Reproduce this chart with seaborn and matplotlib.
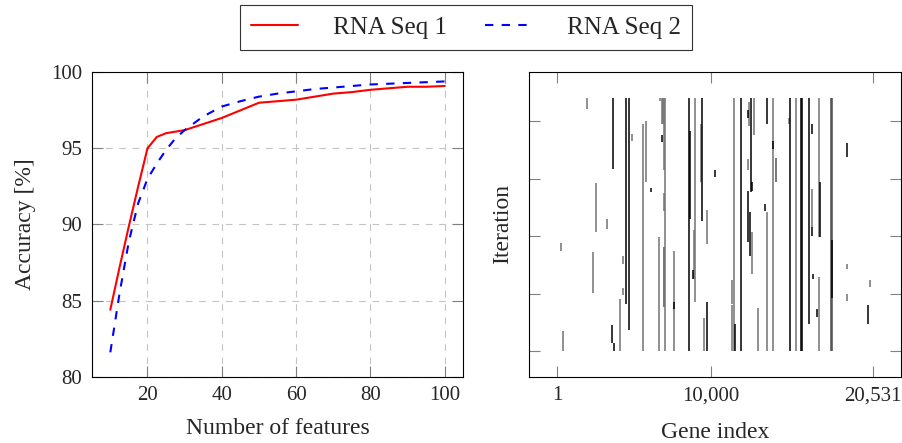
import matplotlib
matplotlib.use('Agg')
import matplotlib.pyplot as plt
from matplotlib.lines import Line2D
import seaborn as sns
import pandas as pd

# --- accuracy vs number of features (left panel) ---
features = [10, 12.5, 15, 17.5, 20, 22.5, 25, 27.5, 30, 35, 40, 45, 50, 55, 60, 65, 70,
            75, 80, 85, 90, 95, 100]
acc_seq1 = [84.4, 87.2, 89.9, 92.5, 95.0, 95.75, 96.0, 96.1, 96.2, 96.6, 97.0, 97.5,
            98.0, 98.1, 98.2, 98.4, 98.6, 98.7, 98.85, 98.95, 99.05, 99.05, 99.1]
acc_seq2 = [81.6, 85.5, 88.9, 91.4, 93.0, 94.0, 94.9, 95.65, 96.2, 97.1, 97.75, 98.1,
            98.4, 98.6, 98.75, 98.9, 99.0, 99.1, 99.2, 99.25, 99.3, 99.35, 99.4]
series_names = ['RNA Seq 1', 'RNA Seq 2']

# --- selected genes per iteration (right panel) ---
# gene index, first iteration, last iteration, selection weight (1 = black)
gene_idx = [1932, 3641, 4467, 4642, 4837, 5572, 5767, 2497, 3212, 222, 2302, 4252, 4252,
            4057, 3537, 3706, 352, 6696, 6840, 6905, 6969, 6969, 6969, 6935, 7034, 6826,
            6072, 6611, 7586, 7606, 8581, 8659, 8984, 8887, 8854, 9322, 9439, 10252, 9712,
            9764, 9537, 11389, 11337, 11519, 11552, 11922, 12481, 12377, 12592, 12767,
            12676, 12377, 12507, 12676, 12377, 13651, 14041, 14041, 14197, 14230, 13501,
            13631, 13066, 15126, 15081, 15562, 15887, 15920, 16381, 16602, 16602, 16602,
            16622, 16901, 17011, 17096, 17011, 17820, 17860, 17860, 18877, 18877, 18877,
            20372, 20216]
iter_start = [21.0, 15.85, 4.1, 1.8, 18.25, 0.0, 14.7, 10.35, 10.6, 8.7, 5.05, 7.6, 4.85,
              0.0, 0.7, 0.0, 0.0, 21.7, 19.75, 19.75, 15.7, 12.2, 3.85, 3.85, 0.0, 18.2,
              13.8, 0.0, 0.0, 3.65, 0.0, 11.5, 4.25, 6.3, 6.25, 14.7, 11.35, 15.15, 9.3,
              0.0, 0.0, 4.1, 0.0, 0.0, 0.0, 0.0, 19.6, 20.25, 13.85, 18.8,
              13.9, 9.5, 8.3, 6.7, 15.7, 19.7, 0.0, 17.6, 14.7, 14.7, 12.2,
              0.0, 0.0, 0.0, 19.75, 0.0, 0.0, 0.0, 2.4, 18.9, 10.8, 10.0,
              6.25, 3.0, 9.95, 9.95, 0.0, 0.0, 0.0, 4.6, 16.9, 7.1, 4.4,
              5.6, 2.4]
iter_end = [22.0, 22.0, 22.0, 22.0, 18.9, 19.75, 20.0, 14.65, 11.45, 9.4, 8.65, 8.25, 5.5,
            4.5, 2.3, 0.7, 1.75, 22.0, 22.0, 22.0, 22.0, 13.7, 9.05, 9.05, 22.0, 18.8,
            14.2, 9.9, 8.7, 4.25, 22.0, 19.1, 22.0, 10.5, 7.05, 19.7, 22.0, 15.7, 12.3,
            4.25, 2.9, 6.15, 4.0, 22.0, 2.4, 22.0, 21.65, 20.95, 22.0, 22.0,
            14.7, 13.9, 12.1, 10.35, 16.7, 22.0, 22.0, 18.25, 16.8, 16.8, 12.8,
            12.1, 3.75, 22.0, 20.25, 22.0, 22.0, 22.0, 22.0, 19.7, 14.1, 10.8,
            6.7, 3.65, 22.0, 14.7, 6.45, 22.0, 22.0, 9.65, 18.1, 7.55, 5.0,
            6.2, 4.05]
weight = [0.55, 1.0, 1.0, 1.0, 0.55, 0.55, 0.55, 0.55, 0.55, 0.55, 0.55, 0.55, 0.55,
          0.55, 1.0, 1.0, 0.55, 0.55, 0.55, 0.55, 0.55, 0.55, 0.55, 0.55, 0.55, 1.0,
          1.0, 0.55, 0.55, 1.0, 1.0, 1.0, 0.55, 0.55, 1.0, 0.55, 1.0, 1.0, 0.55,
          1.0, 0.55, 0.55, 0.55, 0.55, 1.0, 1.0, 0.55, 1.0, 1.0, 0.55,
          1.0, 1.0, 1.0, 0.55, 0.55, 1.0, 0.55, 1.0, 0.55, 0.55, 1.0,
          0.55, 0.55, 1.0, 0.55, 0.55, 1.0, 1.0, 1.0, 1.0, 0.55, 1.0,
          1.0, 1.0, 0.55, 1.0, 0.55, 0.7, 0.7, 1.0, 1.0, 0.55, 0.55,
          0.55, 1.0]
gene_ticks = [1, 10000, 20531]
gene_ticklabels = ['1', '10,000', '20,531']
iter_ticks = [0, 5, 10, 15, 20]

sns.set_style('white')
plt.rcParams['font.family'] = ['Liberation Serif', 'DejaVu Serif']

fig = plt.figure(figsize=(9.02, 4.43), dpi=100)
ax1 = fig.add_axes([0.1017, 0.1497, 0.412, 0.6871])
ax2 = fig.add_axes([0.5868, 0.1497, 0.4121, 0.6871])

# left panel
df_acc = pd.DataFrame({
    'features': features * 2,
    'accuracy': acc_seq1 + acc_seq2,
    'series': [series_names[0]] * len(features) + [series_names[1]] * len(features),
})
colors = {series_names[0]: 'red', series_names[1]: 'blue'}
sns.lineplot(data=df_acc, x='features', y='accuracy', hue='series', style='series',
             palette=colors, dashes={series_names[0]: '', series_names[1]: (4, 4)},
             linewidth=1.5, errorbar=None, legend=False, ax=ax1)
ax1.set_xlim(5, 105)
ax1.set_ylim(80, 100)
ax1.set_xticks([20, 40, 60, 80, 100])
ax1.set_yticks([80, 85, 90, 95, 100])
ax1.set_axisbelow(True)
ax1.grid(True, color='#c4c4c4', linestyle=(0, (6, 6)), linewidth=0.8)
ax1.set_xlabel('Number of features', fontsize=17, labelpad=9)
ax1.set_ylabel('Accuracy [%]', fontsize=17, labelpad=11)

# right panel
df_sel = pd.DataFrame({'gene': gene_idx, 'start': iter_start, 'end': iter_end, 'w': weight})
df_sel = df_sel.sort_values('w')
shade = [(1 - w, 1 - w, 1 - w) for w in df_sel['w']]
ax2.vlines(df_sel['gene'], df_sel['start'], df_sel['end'], colors=shade, linewidth=1.1)
ax2.set_xlim(-1821, 22362)
ax2.set_ylim(-2.22, 24.23)
ax2.set_xticks(gene_ticks)
ax2.set_xticklabels(gene_ticklabels)
ax2.set_yticks(iter_ticks)
ax2.set_xlabel('Gene index', fontsize=17, labelpad=12)
ax2.set_ylabel('Iteration', fontsize=17, labelpad=12)

for ax in (ax1, ax2):
    ax.tick_params(direction='in', length=8, width=0.8, color='#808080',
                   top=True, right=True, bottom=True, left=True, labelsize=15, pad=7)
    for s in ax.spines.values():
        s.set_color('black')
        s.set_linewidth(0.8)
ax2.tick_params(labelleft=False)

handles = [Line2D([], [], color='red', lw=1.5),
           Line2D([], [], color='blue', lw=1.5, linestyle=(0, (4, 4)))]
leg = fig.legend(handles, series_names, loc='center', bbox_to_anchor=(0.5166, 0.9368),
                 ncol=2, frameon=True, fancybox=False, edgecolor='black', fontsize=18,
                 handlelength=1.85, handletextpad=1.4, columnspacing=1.55, borderpad=0.45)
leg.get_frame().set_linewidth(0.8)

fig.savefig('out.png', dpi=100)
